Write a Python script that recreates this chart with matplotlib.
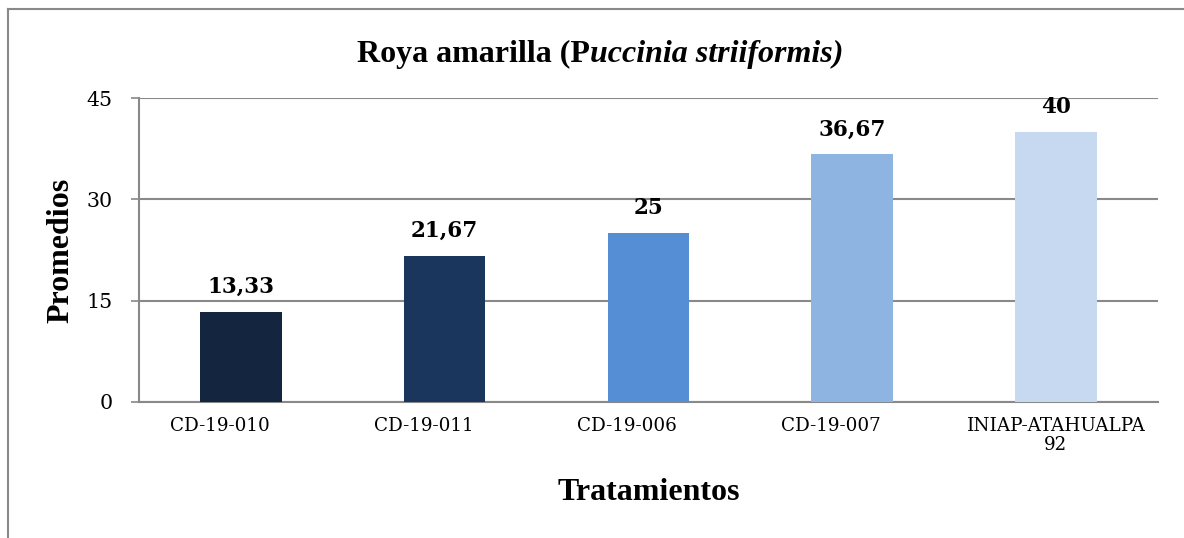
import matplotlib.pyplot as plt
from matplotlib.lines import Line2D
from matplotlib.transforms import ScaledTranslation

tratamientos = ["CD-19-010", "CD-19-011", "CD-19-006", "CD-19-007", "INIAP-ATAHUALPA\n92"]
promedios = [13.33, 21.67, 25, 36.67, 40]
etiquetas = ["13,33", "21,67", "25", "36,67", "40"]
colores = ["#14263f", "#1b365d", "#558ed5", "#8eb4e2", "#c6d9f0"]
marcas_y = [0, 15, 30, 45]

fig = plt.figure(figsize=(11.84, 5.38), dpi=100)
ax = fig.add_axes([0.1174, 0.2528, 0.8604, 0.565])

x = range(len(tratamientos))
ax.bar(x, promedios, width=0.4, color=colores, zorder=3)

for xi, v, txt in zip(x, promedios, etiquetas):
    ax.annotate(txt, (xi, v), xytext=(0, 10), textcoords='offset points',
                ha='center', va='bottom', fontsize=15.5, fontweight='bold',
                family='DejaVu Serif')

ax.set_xlim(-0.5, 4.5)
ax.set_ylim(0, 45)
ax.set_yticks(marcas_y)
ax.set_yticklabels([str(m) for m in marcas_y], family='DejaVu Serif', fontsize=14.8)
ax.set_xticks(list(x))
ax.set_xticklabels(tratamientos, family='DejaVu Serif', fontsize=13.2, linespacing=1.05)
ax.tick_params(axis='y', length=6, width=1.2, color='#898989', pad=13)
ax.tick_params(axis='x', length=0, pad=11)

# las etiquetas de una sola línea quedan algo a la izquierda de su barra
desplazar = ScaledTranslation(-0.21, 0, fig.dpi_scale_trans)
for lbl in ax.get_xticklabels():
    if "\n" not in lbl.get_text():
        lbl.set_transform(lbl.get_transform() + desplazar)

ax.grid(axis='y', color='#898989', linewidth=1.5, zorder=0)
for s in ['top', 'right']:
    ax.spines[s].set_visible(False)
for s in ['left', 'bottom']:
    ax.spines[s].set_color('#898989')
    ax.spines[s].set_linewidth(1.5)

ax.set_ylabel("Promedios", family='Liberation Serif', fontweight='bold', fontsize=23, labelpad=8)
ax.set_xlabel("Tratamientos", family='Liberation Serif', fontweight='bold', fontsize=23,
              va='center')
ax.xaxis.set_label_coords(0.5, -0.297)

# título con la parte científica en cursiva
titulo_a = fig.text(0, 0.884, "Roya amarilla (P", family='Liberation Serif',
                    fontweight='bold', fontsize=23, va='baseline')
titulo_b = fig.text(0, 0.884, "uccinia striiformis)", family='Liberation Serif',
                    fontweight='bold', fontstyle='italic', fontsize=23, va='baseline')
fig.canvas.draw()
r = fig.canvas.get_renderer()
wa = titulo_a.get_window_extent(r).width / fig.bbox.width
wb = titulo_b.get_window_extent(r).width / fig.bbox.width
x0 = 0.507 - (wa + wb) / 2
titulo_a.set_x(x0)
titulo_b.set_x(x0 + wa)

# marco exterior (solo bordes superior e izquierdo)
fig.add_artist(Line2D([0.0065, 0.0065], [0, 0.984], color='#898989', linewidth=1.5))
fig.add_artist(Line2D([0.0065, 1.0], [0.984, 0.984], color='#898989', linewidth=1.5))

fig.savefig("out.png", dpi=100)
